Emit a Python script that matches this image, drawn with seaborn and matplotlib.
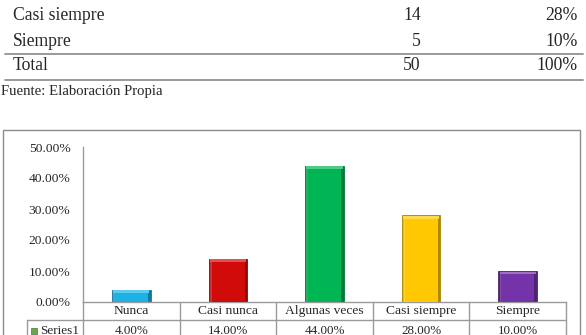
import matplotlib
matplotlib.use('Agg')
import matplotlib.pyplot as plt
import matplotlib.transforms as mtransforms
from matplotlib.patches import Rectangle
import matplotlib.colors as mcolors
import seaborn as sns

sns.set_style('white')
plt.rcParams['font.family'] = ['Liberation Serif', 'DejaVu Serif']

# tabla de arriba (recortada)
tabla_etiquetas = ['Casi siempre', 'Siempre', 'Total']
tabla_frecuencia = ['14', '5', '50']
tabla_porcentaje = ['28%', '10%', '100%']

# datos del grafico
categorias = ['Nunca', 'Casi nunca', 'Algunas veces', 'Casi siempre', 'Siempre']
valores = [0.04, 0.14, 0.44, 0.28, 0.10]
colores = ['#1cb2e6', '#d10a0a', '#00b554', '#ffc800', '#7433a8']
yticks = [0.0, 0.1, 0.2, 0.3, 0.4, 0.5]
serie = 'Series1'

W, H = 586, 335
fig = plt.figure(figsize=(W / 100, H / 100), dpi=100)


def fy(py):
    return 1 - py / H


# --- tabla superior ---
filas_y = [16, 42, 66]
for lab, n, pct, py in zip(tabla_etiquetas, tabla_frecuencia, tabla_porcentaje, filas_y):
    fig.text(13 / W, fy(py), lab, fontsize=12.7, va='center', ha='left')
    fig.text(421 / W, fy(py), n, fontsize=12.7, va='center', ha='right')
    fig.text(578 / W, fy(py), pct, fontsize=12.7, va='center', ha='right')
for py in [54, 80]:
    fig.add_artist(plt.Line2D([5 / W, 583 / W], [fy(py), fy(py)], color='#9a9a9a', lw=1.4,
                              transform=fig.transFigure))
fig.text(1 / W, fy(91), 'Fuente: Elaboración Propia', fontsize=10.6, va='center', ha='left')

# --- marco del grafico ---
fig.add_artist(Rectangle((3 / W, fy(340)), (580 - 3) / W, (340 - 130) / H, fill=False,
                         edgecolor='#8c8c8c', lw=1.0, transform=fig.transFigure))

# --- grafico ---
ax = fig.add_axes([83 / W, fy(302), (566 - 83) / W, (302 - 147) / H])
sns.barplot(x=categorias, y=valores, hue=categorias, palette=colores, width=0.4,
            saturation=1, legend=False, ax=ax)

# efecto biselado
for p, c in zip(ax.patches, colores):
    rgb = mcolors.to_rgb(c)
    oscuro = tuple(v * 0.68 for v in rgb)
    claro = tuple(v + (1 - v) * 0.3 for v in rgb)
    x0, w, h = p.get_x(), p.get_width(), p.get_height()
    p.set_facecolor(oscuro)
    p.set_edgecolor(oscuro)
    p.set_linewidth(0.6)
    top = 0.011
    ax.add_patch(Rectangle((x0 + w * 0.07, 0), w * 0.86, h - top, facecolor=c, lw=0, zorder=3))
    ax.add_patch(Rectangle((x0 + w * 0.03, h - top), w * 0.94, top * 0.85, facecolor=claro,
                           lw=0, zorder=3))
    ax.add_patch(Rectangle((x0 + w * 0.03, 0), w * 0.05, h - top, facecolor=claro, alpha=0.6,
                           lw=0, zorder=3))

ax.set_xlim(-0.5, len(categorias) - 0.5)
ax.set_ylim(0, 0.5)
ax.set_yticks(yticks)
ax.set_yticklabels(['{:.2f}%'.format(v * 100) for v in yticks], fontsize=9.7)
ax.set_xticks([])
ax.set_xlabel('')
ax.tick_params(axis='y', length=0, pad=9)
for s in ['top', 'right']:
    ax.spines[s].set_visible(False)
for s in ['left', 'bottom']:
    ax.spines[s].set_color('#9a9a9a')
    ax.spines[s].set_linewidth(1.0)

# --- tabla de datos bajo el eje ---
gris = '#9a9a9a'
fila = 18 / 155
mixto = mtransforms.blended_transform_factory(ax.transData, ax.transAxes)
for i in range(len(categorias) + 1):
    ax.plot([i - 0.5, i - 0.5], [0, -2.3 * fila], color=gris, lw=1.0, transform=mixto,
            clip_on=False)
x_serie = (27 - 83) / 483
ax.plot([x_serie, 1], [-fila, -fila], color=gris, lw=1.0, transform=ax.transAxes, clip_on=False)
ax.plot([x_serie, x_serie], [-fila, -2.3 * fila], color=gris, lw=1.0, transform=ax.transAxes,
        clip_on=False)
for i, (cat, v) in enumerate(zip(categorias, valores)):
    ax.text(i, -fila * 0.5, cat, fontsize=9.7, ha='center', va='center', transform=mixto)
    ax.text(i, -fila * 1.6, '{:.2f}%'.format(v * 100), fontsize=9.4, ha='center', va='center',
            transform=mixto)
ax.plot([(34 - 83) / 483], [-fila * 1.6], marker='s', markersize=3.8, color='#6aa84f',
        markeredgecolor='#3f7a2e', markeredgewidth=0.5, transform=ax.transAxes, clip_on=False)
ax.text((40 - 83) / 483, -fila * 1.6, serie, fontsize=9.5, ha='left', va='center',
        transform=ax.transAxes)

fig.savefig('out.png', dpi=100)
